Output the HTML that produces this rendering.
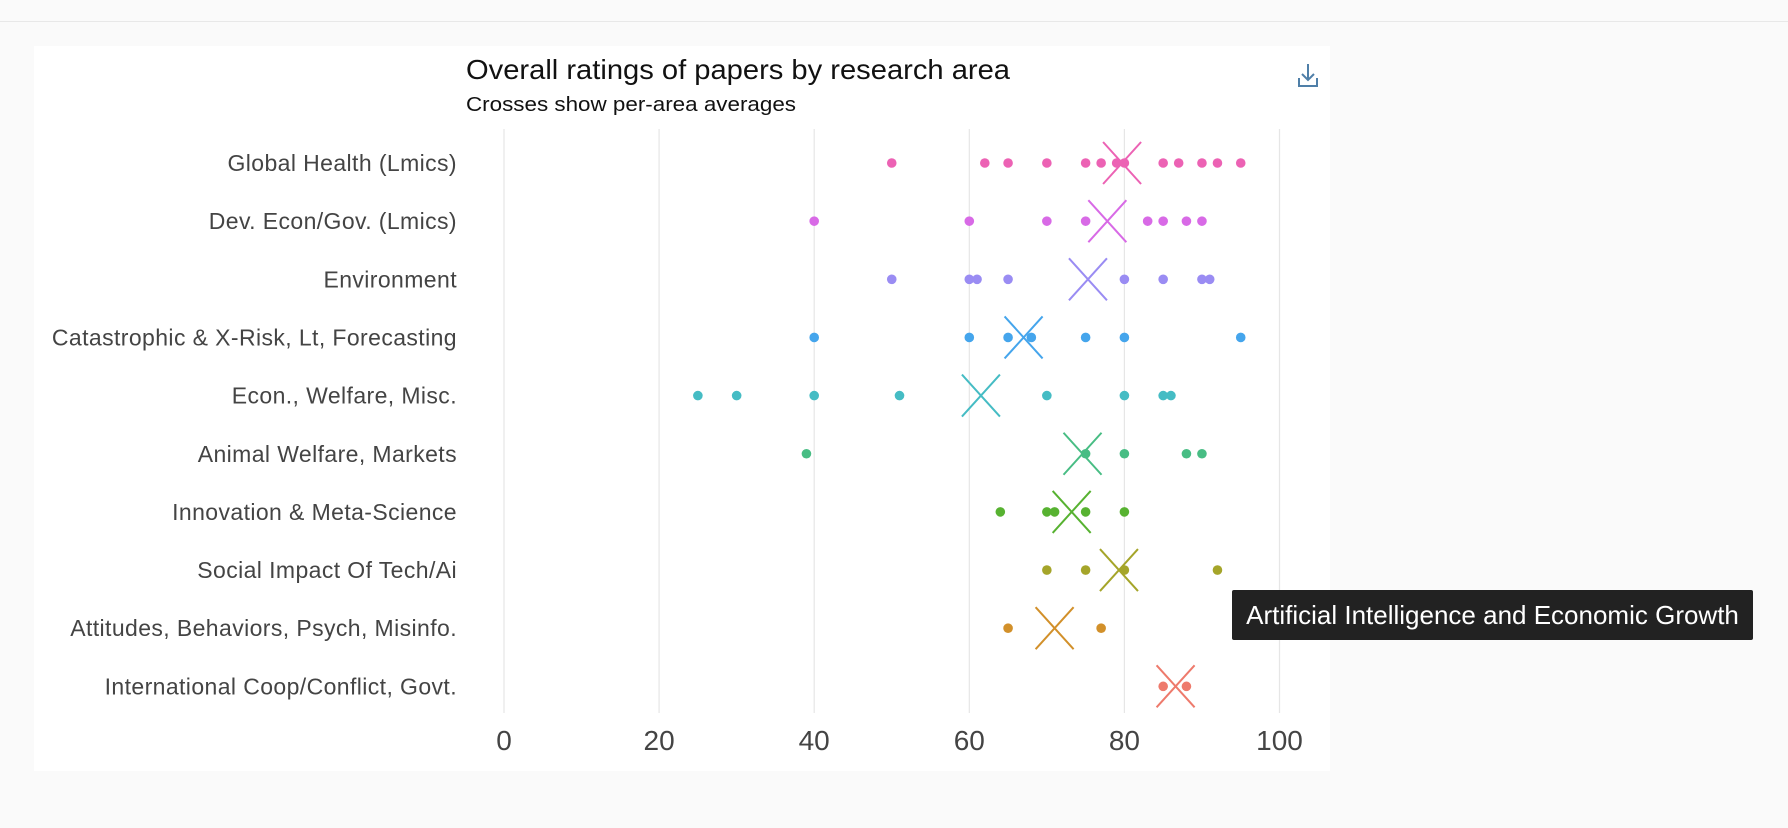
<!DOCTYPE html>
<html><head><meta charset="utf-8"><style>
html,body{margin:0;padding:0;background:#fafafa;}
body{width:1788px;height:828px;position:relative;overflow:hidden;font-family:"Liberation Sans",sans-serif;}
</style></head><body>
<div style="position:absolute;left:0;top:21px;width:1788px;height:1px;background:#e8e8e8"></div>
<div style="position:absolute;left:34px;top:46px;width:1296px;height:725px;background:#fff"></div>
<svg width="1788" height="828" style="position:absolute;left:0;top:0" font-family="Liberation Sans, sans-serif">
<text x="466" y="79" font-size="28" fill="#111" textLength="544" lengthAdjust="spacingAndGlyphs">Overall ratings of papers by research area</text>
<text x="466" y="111" font-size="20" fill="#111" textLength="330" lengthAdjust="spacingAndGlyphs">Crosses show per-area averages</text>
<g stroke="#4f7fa8" stroke-width="2" fill="none"><path d="M1308 64v16M1302 74l6 6 6-6M1299 78v8h18v-8"/></g>
<g stroke="#e6e6e6" stroke-width="1.2">
<line x1="504" y1="129" x2="504" y2="713"/><line x1="659.1" y1="129" x2="659.1" y2="713"/><line x1="814.2" y1="129" x2="814.2" y2="713"/><line x1="969.3" y1="129" x2="969.3" y2="713"/><line x1="1124.4" y1="129" x2="1124.4" y2="713"/><line x1="1279.5" y1="129" x2="1279.5" y2="713"/>
</g>
<g font-size="28" fill="#444" text-anchor="middle">
<text x="504" y="750">0</text><text x="659.1" y="750">20</text><text x="814.2" y="750">40</text><text x="969.3" y="750">60</text><text x="1124.4" y="750">80</text><text x="1279.5" y="750">100</text>
</g>
<g font-size="23" fill="#444" text-anchor="end" letter-spacing="0.4" id="labels"></g>
<g id="pts"></g>
</svg>
<div style="position:absolute;left:1232px;top:590px;width:521px;height:50px;background:#222;border-radius:2px;color:#fff;font-size:26px;line-height:50px;text-align:center;font-family:'Liberation Sans',sans-serif;white-space:nowrap">Artificial Intelligence and Economic Growth</div>
<script>
var rows=[
["Global Health (Lmics)","#ec62b4",[50,62,65,70,75,77,79,80,85,87,90,92,95],79.7],
["Dev. Econ/Gov. (Lmics)","#d86ae6",[40,60,70,75,83,85,88,90],77.8],
["Environment","#9a8cf3",[50,60,61,65,80,85,90,91],75.3],
["Catastrophic & X-Risk, Lt, Forecasting","#45a5ec",[40,60,65,68,75,80,95],67],
["Econ., Welfare, Misc.","#45bcc4",[25,30,40,51,70,80,85,86],61.5],
["Animal Welfare, Markets","#48bd84",[39,75,80,88,90],74.6],
["Innovation & Meta-Science","#57b231",[64,70,71,75,80],73.2],
["Social Impact Of Tech/Ai","#a5a52a",[70,75,80,92],79.3],
["Attitudes, Behaviors, Psych, Misinfo.","#d2902a",[65,77],71],
["International Coop/Conflict, Govt.","#ee7a6c",[85,88],86.6]];
var ns="http://www.w3.org/2000/svg",L=document.getElementById("labels"),P=document.getElementById("pts");
function X(v){return 504+7.755*v}
rows.forEach(function(r,i){var y=163+58.15*i;
var t=document.createElementNS(ns,"text");t.setAttribute("x",457);t.setAttribute("y",y+8);t.textContent=r[0];L.appendChild(t);
r[2].forEach(function(v){var c=document.createElementNS(ns,"circle");c.setAttribute("cx",X(v));c.setAttribute("cy",y);c.setAttribute("r",4.8);c.setAttribute("fill",r[1]);P.appendChild(c);});
var x=X(r[3]),p=document.createElementNS(ns,"path");p.setAttribute("d","M"+(x-19)+" "+(y-21)+"L"+(x+19)+" "+(y+21)+"M"+(x+19)+" "+(y-21)+"L"+(x-19)+" "+(y+21));p.setAttribute("stroke",r[1]);p.setAttribute("stroke-width",2);P.appendChild(p);});
</script>
</body></html>
